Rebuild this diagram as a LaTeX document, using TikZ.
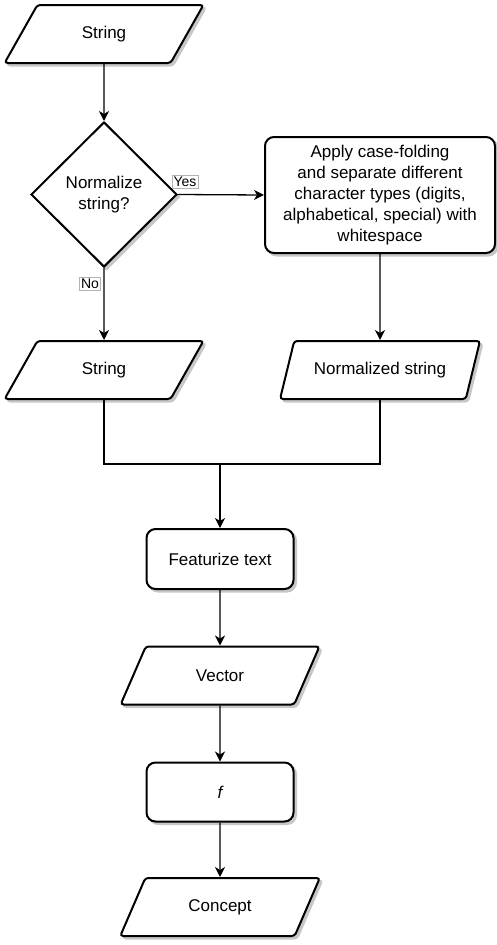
\documentclass[tikz,border=0pt]{standalone}
\usepackage{fontspec}
\setmainfont{Liberation Sans}
\usetikzlibrary{shapes.geometric,arrows.meta,calc}

\tikzset{
  shade/.style={preaction={draw=black!22,fill=black!22,line width=2pt,transform canvas={xshift=2.5pt,yshift=-2.5pt}}},
  base/.style={draw=black,line width=2pt,fill=white,font=\fontsize{17}{21}\selectfont,align=center,inner sep=0pt,shade},
  iobox/.style={base,trapezium,trapezium left angle=55.4,trapezium right angle=124.6,
    trapezium stretches=true,minimum width=200pt,minimum height=58pt,rounded corners=3pt},
  procbox/.style={base,rectangle,rounded corners=9pt},
  decision/.style={base,diamond,minimum width=146pt,minimum height=145pt,aspect=1},
  flow/.style={draw=black,line width=1.3pt,-{Stealth[length=10pt,width=10pt,inset=3pt]}},
  link/.style={draw=black,line width=1.3pt},
  tag/.style={draw=gray!60,line width=0.6pt,fill=white,font=\fontsize{14}{16}\selectfont,inner sep=1.5pt}
}

\begin{document}
\begin{tikzpicture}[x=1pt,y=-1pt]
  \useasboundingbox (0,0) rectangle (496,945);

  % flow nodes
  \node[iobox] (in) at (104,34) {String};
  \node[decision] (dec) at (104,194.5) {Normalize\\string?};
  \node[procbox,minimum width=230pt,minimum height=116pt] (norm) at (380,195)
    {Apply case-folding\\and separate different\\character types (digits,\\alphabetical, special) with\\whitespace};
  \node[iobox] (raw) at (104,370) {String};
  \node[iobox] (nstr) at (380,370) {Normalized string};
  \coordinate (join) at (220,464);
  \node[procbox,minimum width=147pt,minimum height=60pt] (feat) at (220,559) {Featurize text};
  \node[iobox] (vec) at (220,675.5) {Vector};
  \node[procbox,minimum width=147pt,minimum height=59pt] (fn) at (220,792) {\itshape f};
  \node[iobox] (con) at (220,907) {Concept};

  % connectors
  \draw[flow] (in.south) -- (dec.north);
  \draw[flow] (dec.east) -- (norm.west);
  \draw[flow] (dec.south) -- (raw.north);
  \draw[flow] (norm.south) -- (nstr.north);
  \draw[link] (raw.south) -- (raw.south |- join) -- (nstr.south |- join) -- (nstr.south);
  \draw[flow] (join) -- (feat.north);
  \draw[flow] (feat.south) -- (vec.north);
  \draw[flow] (vec.south) -- (fn.north);
  \draw[flow] (fn.south) -- (con.north);

  % branch labels
  \node[tag] (yes) at (185,182) {Yes};
  \node[tag] (no) at (90,283.5) {No};
\end{tikzpicture}
\end{document}
